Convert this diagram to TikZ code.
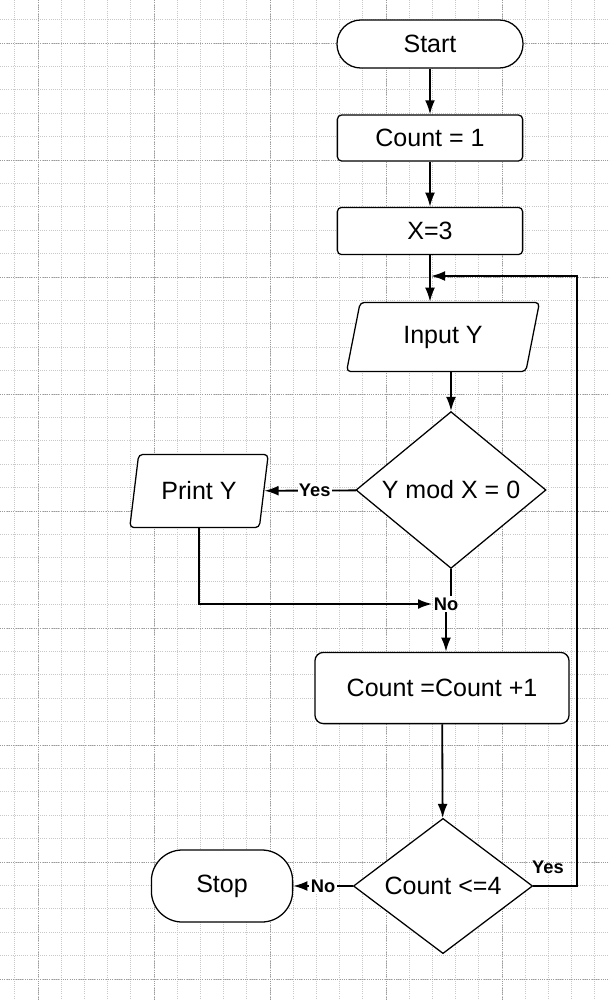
\documentclass[tikz,border=0pt]{standalone}
\usepackage{fontspec}
\setmainfont{Liberation Sans}
\usetikzlibrary{arrows.meta,positioning,calc,shapes.geometric}
\definecolor{gminor}{HTML}{C8C8C8}
\definecolor{gmajor}{HTML}{9A9A9A}
\tikzset{
  base/.style={draw=black,fill=white,line width=0.9pt,align=center,font=\fontsize{17.8}{20}\selectfont,inner sep=2pt},
  term/.style={base,rounded corners=17pt},
  proc/.style={base,rounded corners=3pt},
  io/.style={base,trapezium,trapezium left angle=76,trapezium right angle=104,trapezium stretches=true,rounded corners=3pt},
  dec/.style={base,diamond,inner sep=0pt},
  arr/.style={-{Latex[length=10pt,width=7pt]},line width=1.3pt},
  lin/.style={line width=1.3pt},
  lbl/.style={font=\bfseries\fontsize{13}{15}\selectfont,inner sep=1pt},
  gmin/.style={draw=gminor,line width=0.5pt,densely dotted},
  gmaj/.style={draw=gmajor,line width=0.6pt,densely dotted},
}
\begin{document}
\begin{tikzpicture}[x=0.025cm,y=-0.025cm]
  \useasboundingbox (0,0) rectangle (610,1000);
  % background grid
  \foreach \k in {0,...,26} { \draw[gmin] (14.8+23.2*\k,0) -- (14.8+23.2*\k,1000); }
  \foreach \k in {0,...,42} { \draw[gmin] (0,19.6+23.4*\k) -- (610,19.6+23.4*\k); }
  \foreach \k in {0,...,5} { \draw[gmaj] (38+116*\k,0) -- (38+116*\k,1000); }
  \foreach \k in {0,...,8} { \draw[gmaj] (0,43+117*\k) -- (610,43+117*\k); }
  % main column
  \node[term,minimum width=4.65cm,minimum height=1.2cm] (start) at (430,44) {Start};
  \node[proc,minimum width=4.63cm,minimum height=1.15cm] (cnt) at (430,138) {Count = 1};
  \node[proc,minimum width=4.63cm,minimum height=1.18cm] (xset) at (430,231) {X=3};
  \node[io,minimum width=4.83cm,minimum height=1.73cm] (inp) at (443,337) {Input Y};
  \node[dec,minimum width=4.75cm,minimum height=3.4cm] (chk) at (451,490) {Y mod X = 0};
  \node[io,minimum width=3.48cm,minimum height=1.83cm] (prt) at (199,491) {Print Y};
  \node[lbl] (nochk) at (446,604) {No};
  \node[proc,rounded corners=6pt,minimum width=6.35cm,minimum height=1.78cm] (inc) at (442,688) {Count =Count +1};
  \node[dec,minimum width=4.48cm,minimum height=3.38cm] (lim) at (443,886) {Count <=4};
  \node[term,rounded corners=22pt,minimum width=3.53cm,minimum height=1.8cm] (stop) at (222,886) {Stop};
  \node[lbl] (yeslim) at (548,867) {Yes};
  \coordinate (back) at (577,886);
  \coordinate (join) at (431,276);
  % connectors
  \draw[arr] (start) -- (cnt);
  \draw[arr] (cnt) -- (xset);
  \draw[arr] (xset) -- (xset |- inp.north);
  \draw[arr] (chk.north |- inp.south) -- (chk.north);
  \draw[arr] (chk) -- node[lbl,fill=white,pos=0.45] {Yes} (prt);
  \draw[lin] (chk) -- (chk.south |- nochk.north);
  \draw[arr] (prt) |- (nochk);
  \draw[arr] (nochk) -- (nochk |- inc.north);
  \draw[arr] (inc) -- (lim);
  \draw[arr] (lim) -- node[lbl,fill=white] {No} (stop);
  \draw[arr] (lim.east) -- (back) |- (join);
\end{tikzpicture}
\end{document}
